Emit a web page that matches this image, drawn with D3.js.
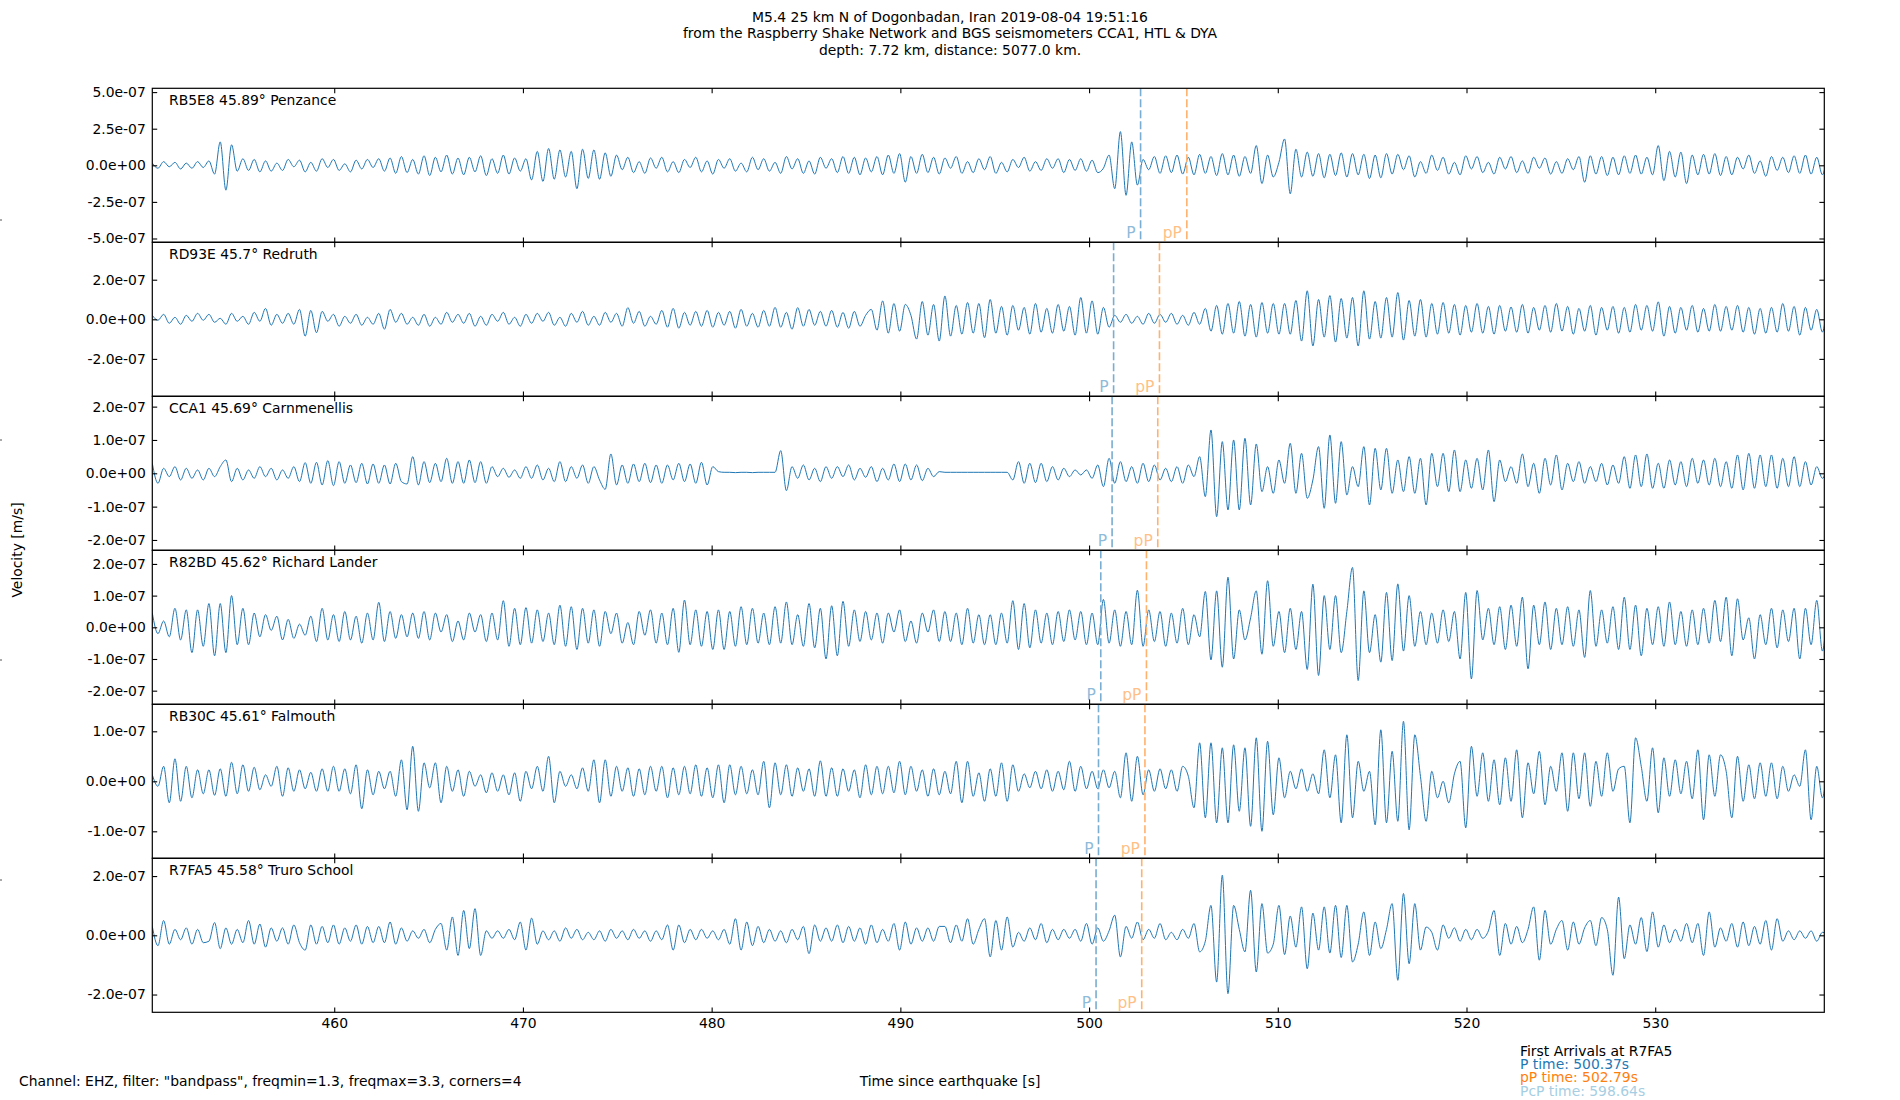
<!DOCTYPE html>
<html>
<head>
<meta charset="utf-8">
<script src="https://d3js.org/d3.v7.min.js"></script>
<style>
  body { margin: 0; background: #fff; }
  svg text { font-family: "DejaVu Sans", sans-serif; }
</style>
</head>
<body>
<svg id="chart" width="1900" height="1100"></svg>
<script>
// ---- values ----
const titleLines = [
  "M5.4 25 km N of Dogonbadan, Iran 2019-08-04 19:51:16",
  "from the Raspberry Shake Network and BGS seismometers CCA1, HTL & DYA",
  "depth: 7.72 km, distance: 5077.0 km."
];
const stations = [
  "RB5E8 45.89° Penzance",
  "RD93E 45.7° Redruth",
  "CCA1 45.69° Carnmenellis",
  "R82BD 45.62° Richard Lander",
  "RB30C 45.61° Falmouth",
  "R7FA5 45.58° Truro School"
];
const pTimes = [502.73, 501.30, 501.22, 500.62, 500.50, 500.37];
const ppTimes = [505.18, 503.73, 503.64, 503.04, 502.96, 502.79];
const yLimits = [5.26e-7, 3.89e-7, 2.31e-7, 2.43e-7, 1.54e-7, 2.60e-7];
const yTicks = [
  [-5e-7, -2.5e-7, 0, 2.5e-7, 5e-7],
  [-2e-7, 0, 2e-7],
  [-2e-7, -1e-7, 0, 1e-7, 2e-7],
  [-2e-7, -1e-7, 0, 1e-7, 2e-7],
  [-1e-7, 0, 1e-7],
  [-2e-7, 0, 2e-7]
];
const xTicks = [460, 470, 480, 490, 500, 510, 520, 530];
const timeStart = 450.36, timeEnd = 538.96, sampleStep = 0.3;
const arrivalLines = [
  ["First Arrivals at R7FA5", "#000000"],
  ["P time: 500.37s", "#1f77b4"],
  ["pP time: 502.79s", "#ff7f0e"],
  ["PcP time: 598.64s", "#a6cee3"]
];

// velocity, in nm/s, one value every sampleStep seconds from timeStart
const penzance = [
  15,-20,25,-10,20,-25,15,-20,25,-15,
  30,-60,160,-170,140,-40,45,-35,40,-45,
  30,-40,15,-35,40,-10,35,-45,20,-40,
  45,-15,40,-35,10,-45,35,-25,40,-15,
  45,-40,50,-55,60,-50,40,-60,65,-70,
  55,-45,70,-60,50,-65,55,-45,65,-70,
  45,-55,70,-60,50,-40,45,-100,95,-110,
  115,-95,105,-80,95,-160,110,-90,105,-95,
  85,-75,70,-30,55,-50,25,-55,50,-20,
  55,-45,25,-50,40,-15,55,-45,30,-60,
  40,-20,45,-40,15,-45,55,-30,45,-40,
  20,-55,60,-25,45,-55,30,-60,55,-20,
  45,-50,60,-55,55,-65,50,-45,60,-65,
  70,-55,80,-115,60,-55,75,-50,55,-60,
  50,-20,60,-55,25,-50,45,-30,60,-55,
  20,-45,40,-15,55,-40,25,-35,45,-20,
  45,-50,40,-35,45,-40,35,-50,-20,70,
  -160,230,-205,160,-135,40,-30,60,-55,65,
  -50,70,-60,55,-65,75,-55,60,-70,80,
  -65,70,-75,60,-55,135,-125,70,-80,20,
  180,-195,110,-80,90,-75,80,-85,75,-70,
  85,-80,80,-65,75,-90,70,-85,80,-60,
  75,-30,65,-80,25,-55,70,-35,55,-60,
  20,-65,65,-25,60,-50,20,-60,55,-25,
  60,-50,30,-55,55,-20,50,-60,25,-55,
  45,-30,60,-115,65,-60,60,-70,55,-65,
  65,-55,70,-60,55,-65,135,-105,95,-80,
  90,-125,70,-65,75,-60,80,-70,60,-65,
  55,-25,70,-55,30,-75,60,-35,55,-50,
  65,-55,70,-60,55,-65,50,-45,40,-50
];
const redruth = [
  20,-5,25,-20,10,-25,20,-10,30,-5,
  25,-15,5,-25,30,-10,15,-25,35,-10,
  55,-30,25,-20,30,-25,50,-85,45,-68,
  40,-10,25,-35,15,-20,25,-30,10,-25,
  30,-50,50,-15,30,-25,10,-30,25,-35,
  10,-25,35,-15,25,-20,30,-35,15,-30,
  25,-10,35,-25,10,-35,25,-20,30,-10,
  35,-30,10,-35,30,-15,40,-30,15,-30,
  35,-15,30,-35,59,-20,40,-35,15,-25,
  45,-40,55,-45,35,-30,40,-35,45,-40,
  35,-30,40,-45,50,-35,30,-40,45,-35,
  60,-40,35,-50,59,-35,50,-30,40,-35,
  45,-40,35,-45,40,-35,20,50,-55,93,
  -70,80,-60,75,20,-100,90,-80,75,-110,
  118,-85,70,-75,85,-70,80,-93,100,-70,
  65,-80,70,-55,60,-75,80,-65,55,-70,
  75,-60,65,-80,110,-70,93,-75,60,-40,
  20,-15,25,-20,15,-25,30,-20,25,-15,
  30,-25,20,-30,35,-25,55,-60,70,-75,
  80,-70,90,-85,75,-90,85,-70,80,-75,
  80,-75,95,-110,144,-135,100,-90,120,-115,
  105,-95,110,-135,144,-100,90,-95,110,-90,
  135,-105,95,-85,100,-90,80,-75,85,-70,
  75,-80,70,-65,80,-70,65,-75,70,-60,
  62,-65,75,-70,60,-55,70,-65,80,-60,
  65,-75,55,-60,70,-80,60,-55,65,-70,
  60,-65,75,-55,70,-60,88,-85,65,-70,
  60,-55,70,-65,55,-60,75,-60,65,-55,
  70,-65,60,-75,55,-70,60,-65,80,-60,
  65,-80,60,-55,50,-65,55,-50,45,-40
];
const carnmenellis = [
  30,-30,15,-10,20,-20,15,-15,10,-20,
  15,-10,20,40,-25,15,-20,10,-15,20,
  -10,15,-20,10,-15,20,-25,32,-30,33,
  -35,38,-37,35,-30,25,-28,30,-32,28,
  -30,25,-32,30,-25,-32,50,-35,35,-28,
  30,-25,45,-30,35,-30,40,-28,35,-30,
  20,-10,15,-12,10,-15,20,-15,25,-20,
  15,-25,35,-25,20,-15,25,-30,20,-20,
  -48,58,-35,25,-30,28,-25,30,-28,25,
  -30,25,-20,30,-25,28,-30,33,-35,20,
  5,3,3,2,3,3,2,3,3,3,
  3,68,-52,20,-15,25,-20,15,-25,20,
  -15,20,-10,25,-20,15,-12,20,-25,15,
  -20,28,-25,28,-20,25,-22,15,-10,5,
  3,3,3,3,3,3,3,3,3,3,
  3,3,-20,35,-30,30,-28,30,-25,20,
  -20,15,-10,10,-5,10,-15,25,-40,45,
  -30,35,-25,20,-30,30,-25,25,-20,15,
  -25,20,-30,25,-10,50,-70,130,-130,95,
  -110,100,-110,105,-95,88,-55,20,-60,40,
  -30,90,-60,60,-75,-20,80,-105,115,-90,
  95,-65,20,-40,80,-95,75,-50,75,-60,
  40,-55,50,-60,45,-95,60,-40,60,-55,
  70,-55,40,-45,45,-50,70,-85,40,-25,
  20,-30,58,-40,30,-60,45,-35,55,-50,
  30,-25,35,-30,20,-25,30,-35,25,-30,
  50,-45,55,-40,58,-45,30,-45,40,-35,
  35,-40,45,-30,40,-35,45,-40,35,-45,
  55,-50,60,-45,55,-40,55,-45,45,-40,
  50,-40,35,-35,20,-15,10,-5,8,5
];
const richardLander = [
  45,-20,20,-30,60,-40,55,-80,55,-60,
  75,-90,75,-80,100,-55,60,-55,45,-30,
  40,-10,35,-40,25,-35,10,-25,35,-45,
  60,-40,40,-45,50,-40,35,-50,45,-40,
  79,-45,50,-35,40,-30,45,-35,50,-40,
  45,-15,40,-45,20,-40,45,-15,40,-45,
  45,-40,84,-60,60,-55,62,-50,55,-45,
  45,-55,70,-60,65,-70,60,-50,55,-60,
  50,-20,45,-50,15,-55,50,-25,55,-50,
  45,-55,60,-79,86,-55,55,-60,50,-70,
  55,-70,50,-60,65,-55,60,-50,45,-55,
  65,-50,80,-55,40,-60,75,-65,60,-100,
  68,-90,82,-60,55,-45,50,-40,45,-50,
  45,-15,55,-45,20,-50,45,-15,55,-45,
  50,-45,45,-55,60,-50,40,-55,40,-55,
  45,-50,84,-70,75,-65,55,-50,45,-55,
  50,-45,55,-40,50,-55,45,-55,88,-50,
  55,-60,50,-55,117,-60,55,-45,50,-60,
  45,-50,60,-55,40,-30,113,-103,115,-126,
  158,-100,55,-40,30,115,-85,147,-60,50,
  -80,60,-70,50,-133,136,-152,100,-70,100,
  -80,50,189,-168,115,-80,40,-110,110,-105,
  137,-75,100,-60,50,-55,45,-50,55,-45,
  50,-100,110,-163,116,-40,60,-55,65,-70,
  70,-60,95,-131,70,-55,80,-70,60,-55,
  65,-60,55,-95,116,-60,55,-50,65,-70,
  95,-70,70,-90,60,-55,65,-60,80,-55,
  50,-60,55,-55,60,-50,85,-45,95,-90,
  90,-40,30,-100,40,-55,60,-65,55,-45,
  60,-100,60,-55,85,-75,35,-20,25,-15
];
const falmouth = [
  13,-10,30,-43,45,-40,30,-33,23,-25,
  23,-28,25,-30,38,-25,33,-20,28,-17,
  13,-10,30,-30,27,-20,23,-15,18,-20,
  25,-20,30,-20,25,-25,33,-55,23,-27,
  20,-15,20,-30,43,-57,70,-60,37,-13,
  37,-43,30,-20,23,-30,20,-10,13,-23,
  17,-20,13,-27,17,-40,20,-15,30,-20,
  50,-43,20,-10,13,-15,27,-20,43,-43,
  43,-30,30,-20,27,-30,25,-27,30,-20,
  30,-33,27,-27,30,-25,33,-30,27,-33,
  33,-43,33,-27,30,-25,23,-27,40,-53,
  37,-27,33,-30,27,-20,25,-30,41,-30,
  27,-30,25,-20,23,-33,33,-27,30,-25,
  30,-23,40,-27,30,-20,23,-30,25,-27,
  20,-25,40,-43,40,-30,17,-40,25,-30,
  37,-40,33,-20,15,-13,20,-15,23,-20,
  20,-17,40,-20,30,-15,20,-15,23,-13,
  20,-33,57,-40,50,-27,23,-20,25,-15,
  23,-20,30,10,-53,77,-73,77,-83,67,
  -83,73,-60,67,-90,87,-100,80,-67,47,
  -33,20,-15,25,-20,15,-25,63,-33,53,
  -83,93,-73,40,-20,20,-87,103,-83,60,
  -80,120,-97,93,10,-80,20,-33,0,-43,
  15,40,-93,70,-30,57,-40,43,-47,47,
  -40,63,-73,37,-25,60,-47,30,-20,57,
  -60,57,-35,57,-50,40,-30,57,-20,25,
  30,-83,87,30,-40,67,-63,47,-30,43,
  -25,40,-35,63,-77,53,-30,53,20,-73,
  50,-40,33,-35,37,-30,37,-35,30,-20,
  13,-10,63,-77,30,-33,20,-15,10,-5
];
const truroSchool = [
  30,-35,50,-30,20,-15,25,-30,20,-25,
  -20,43,-45,25,-30,20,-25,50,-30,38,
  -40,25,-20,25,-30,35,-25,-50,35,-30,
  30,-25,35,-30,25,-20,35,-30,30,-25,
  30,-25,45,-30,25,-20,15,-10,20,-25,
  20,40,-50,62,-68,84,-45,90,-68,15,
  -10,15,-10,20,-15,45,-50,58,-30,15,
  -15,15,-20,25,-10,20,-15,10,-15,15,
  -20,20,-10,15,-15,20,-10,15,-20,15,
  -15,35,-50,35,-25,20,-15,20,-10,15,
  -15,20,-30,56,-50,45,-35,30,-25,20,
  -20,15,-25,20,-15,30,-62,35,-20,25,
  -20,35,-25,30,-20,25,-30,35,-25,20,
  -20,40,-50,45,-30,25,-20,25,-20,30,
  30,-25,35,-20,56,-30,20,56,-73,50,
  -50,62,-40,10,-20,25,-15,40,-25,20,
  -15,20,-10,20,-20,40,-30,25,-20,15,
  68,-73,30,-10,45,-15,20,-10,40,-15,
  10,-15,20,-10,40,-56,-20,101,-158,203,
  -197,101,20,-56,152,-124,107,-60,-30,101,
  -65,65,-40,96,-113,75,-50,96,-60,101,
  -75,101,-90,-30,79,-68,45,-45,20,107,
  -152,141,-96,107,-50,28,10,-50,35,-10,
  25,-20,20,-15,20,-10,15,84,-68,40,
  -30,30,-25,20,96,-84,84,-30,20,50,
  -50,45,-30,25,50,-35,60,20,-135,129,
  -79,35,-30,60,-55,79,-40,35,-25,20,
  -20,40,-25,40,-68,79,-40,25,-20,40,
  -40,45,-35,30,-30,50,-50,56,-20,15,
  -15,15,-10,15,-20,10,5,-5,5,0
];
const traces = [penzance, redruth, carnmenellis, richardLander, falmouth, truroSchool];

// ---- layout ----
const W = 1900, H = 1100;
const left = 152.3, right = 1824.3, top0 = 88.3, panelH = 154;
const tick = 4.9, fontSize = 13.9;

const svg = d3.select("#chart");

// "%.1e" style labels like matplotlib: 5.0e-07, 0.0e+00
function sci(v) {
  const parts = v.toExponential(1).split("e");
  const e = parts[1];
  return parts[0] + "e" + e[0] + e.slice(1).padStart(2, "0");
}

const x = d3.scaleLinear().domain([timeStart, timeEnd]).range([left, right]);

traces.forEach(function(trace, i) {
  const top = top0 + i * panelH, bottom = top + panelH;
  const y = d3.scaleLinear().domain([-yLimits[i], yLimits[i]]).range([bottom, top]);
  const g = svg.append("g");

  g.append("clipPath").attr("id", "clip" + i)
    .append("rect").attr("x", left).attr("y", top).attr("width", right - left).attr("height", panelH);

  const line = d3.line()
    .x(function(d, k) { return x(timeStart + k * sampleStep); })
    .y(function(d) { return y(d * 1e-9); })
    .curve(d3.curveMonotoneX);

  g.append("path").datum(trace)
    .attr("clip-path", "url(#clip" + i + ")")
    .attr("d", line)
    .attr("fill", "none").attr("stroke", "#1f77b4").attr("stroke-width", 1);

  // arrivals
  const arr = [[pTimes[i], "P", "#79add2", "#8fbbd9"], [ppTimes[i], "pP", "#ffb26e", "#ffbf86"]];
  arr.forEach(function(a) {
    g.append("line")
      .attr("x1", x(a[0])).attr("x2", x(a[0]))
      .attr("y1", top).attr("y2", bottom)
      .attr("stroke", a[2]).attr("stroke-width", 1.6)
      .attr("stroke-dasharray", "8,3");
    g.append("text")
      .attr("x", x(a[0]) - 5).attr("y", bottom - 4)
      .attr("text-anchor", "end")
      .attr("font-size", 15.5).attr("fill", a[3])
      .text(a[1]);
  });

  // axes with inward ticks on all four sides
  g.append("g").attr("transform", "translate(" + left + ",0)")
    .call(d3.axisLeft(y).tickValues(yTicks[i]).tickSize(-tick).tickPadding(6.5).tickFormat(sci));
  g.append("g").attr("transform", "translate(" + right + ",0)")
    .call(d3.axisRight(y).tickValues(yTicks[i]).tickSize(-tick).tickFormat(""));
  g.append("g").attr("transform", "translate(0," + top + ")")
    .call(d3.axisTop(x).tickValues(xTicks).tickSize(-tick).tickFormat(""));
  g.append("g").attr("transform", "translate(0," + bottom + ")")
    .call(d3.axisBottom(x).tickValues(xTicks).tickSize(-tick).tickPadding(6.3)
      .tickFormat(i === traces.length - 1 ? d3.format("d") : ""));

  g.selectAll(".domain").remove();
  g.selectAll(".tick line").attr("stroke", "#000").attr("stroke-width", 1.1);
  g.selectAll(".tick text").attr("fill", "#000")
    .style("font-family", '"DejaVu Sans", sans-serif').style("font-size", fontSize + "px");

  g.append("rect")
    .attr("x", left).attr("y", top).attr("width", right - left).attr("height", panelH)
    .attr("fill", "none").attr("stroke", "#000").attr("stroke-width", 1.2);

  g.append("text")
    .attr("x", 169).attr("y", top + 16.7)
    .attr("font-size", fontSize).attr("fill", "#000")
    .text(stations[i]);
});

// title
svg.selectAll(".title").data(titleLines).join("text")
  .attr("class", "title")
  .attr("x", W / 2).attr("y", function(d, k) { return 21.7 + k * 16.7; })
  .attr("text-anchor", "middle").attr("font-size", fontSize).attr("fill", "#000")
  .text(function(d) { return d; });

// shared y label
svg.append("text")
  .attr("transform", "translate(22," + (H / 2) + ") rotate(-90)")
  .attr("text-anchor", "middle").attr("font-size", fontSize).attr("fill", "#000")
  .text("Velocity [m/s]");

// small stray marks at the left edge
[0.2, 0.4, 0.6, 0.8].forEach(function(f) {
  svg.append("line").attr("x1", 0).attr("x2", 2).attr("y1", H * f).attr("y2", H * f)
    .attr("stroke", "#555").attr("stroke-width", 1);
});

// bottom texts
svg.append("text").attr("x", 19).attr("y", 1086)
  .attr("font-size", fontSize).attr("fill", "#000")
  .text('Channel: EHZ, filter: "bandpass", freqmin=1.3, freqmax=3.3, corners=4');
svg.append("text").attr("x", W / 2).attr("y", 1086)
  .attr("text-anchor", "middle").attr("font-size", fontSize).attr("fill", "#000")
  .text("Time since earthquake [s]");

svg.selectAll(".arrivals").data(arrivalLines).join("text")
  .attr("class", "arrivals")
  .attr("x", 1520).attr("y", function(d, k) { return 1056 + k * 13.2; })
  .attr("font-size", fontSize).attr("fill", function(d) { return d[1]; })
  .text(function(d) { return d[0]; });
</script>
</body>
</html>
